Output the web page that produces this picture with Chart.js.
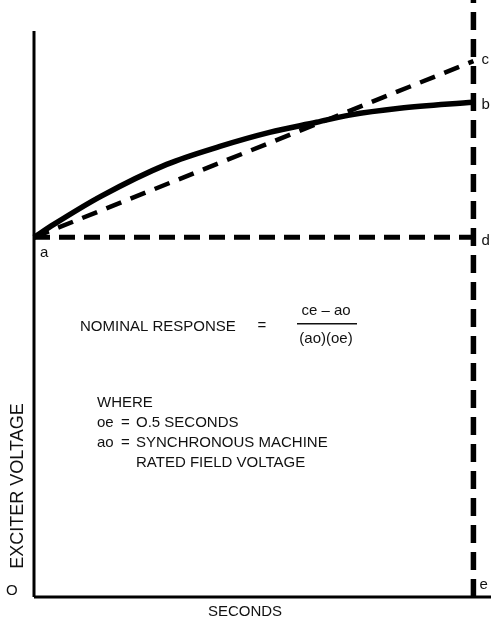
<!DOCTYPE html>
<html>
<head>
<meta charset="utf-8">
<script src="https://cdn.jsdelivr.net/npm/chart.js@4/dist/chart.umd.min.js"></script>
<style>
    html, body { margin: 0; padding: 0; background: #fff; }
    #wrap { width: 491px; height: 623px; position: relative; }
</style>
</head>
<body>
<div id="wrap"><canvas id="response-chart"></canvas></div>
<script>
// time in units of oe (e = 1), voltage in units of ao (a = 1)
const responseTime = [0, 0.045, 0.152, 0.302, 0.423, 0.536, 0.643, 0.718, 0.832, 1.0];
const responseVolts = [1.0, 1.036, 1.114, 1.203, 1.253, 1.292, 1.320, 1.340, 1.359, 1.376];
const nominalTime = [0, 1.0];
const nominalVolts = [1.0, 1.490];
const ratedTime = [0, 1.0];
const ratedVolts = [1.0, 1.0];
const markerTime = [1.0, 1.0];
const markerVolts = [0, 1.66];

const pointLetters = ['a', 'b', 'c', 'd', 'e', 'O'];
const axisTitles = ['SECONDS', 'EXCITER VOLTAGE'];
const formulaText = ['NOMINAL RESPONSE', '=', 'ce \u2013 ao', '(ao)(oe)'];
const whereTitle = 'WHERE';
const whereNames = ['oe', 'ao', ''];
const whereValues = ['O.5 SECONDS', 'SYNCHRONOUS MACHINE', 'RATED FIELD VOLTAGE'];

const toPoints = (xs, ys) => xs.map((x, i) => ({x: x, y: ys[i]}));

/**
 * Text drawn on top
 */
const textPlugin = {
    id: 'textPlugin',
    afterDraw(chart) {
        const ctx = chart.ctx;
        const sx = v => chart.scales.x.getPixelForValue(v);
        const sy = v => chart.scales.y.getPixelForValue(v);
        ctx.save();
        ctx.fillStyle = '#111';
        ctx.font = '15px "Liberation Sans", Arial, sans-serif';
        ctx.textBaseline = 'middle';
        ctx.textAlign = 'left';

        const last = responseTime.length - 1;
        ctx.fillText(pointLetters[0], sx(0) + 6, sy(1) + 15);
        ctx.fillText(pointLetters[1], sx(responseTime[last]) + 8, sy(responseVolts[last]) + 3);
        ctx.fillText(pointLetters[2], sx(nominalTime[1]) + 8, sy(nominalVolts[1]) - 1);
        ctx.fillText(pointLetters[3], sx(ratedTime[1]) + 8, sy(ratedVolts[1]) + 3);
        ctx.fillText(pointLetters[4], sx(markerTime[0]) + 6, sy(0) - 12);
        ctx.fillText(pointLetters[5], 6, sy(0) - 6);

        ctx.textAlign = 'center';
        ctx.fillText(axisTitles[0], 245, 612);
        ctx.save();
        ctx.translate(18, 486);
        ctx.rotate(-Math.PI / 2);
        ctx.font = '18px "Liberation Sans", Arial, sans-serif';
        ctx.fillText(axisTitles[1], 0, 0);
        ctx.restore();

        // formula
        ctx.textAlign = 'left';
        ctx.fillText(formulaText[0], 80, 327);
        ctx.textAlign = 'center';
        ctx.fillText(formulaText[1], 262, 326);
        ctx.fillText(formulaText[2], 326, 311);
        ctx.fillText(formulaText[3], 326, 339);
        ctx.fillRect(297, 323, 60, 1.5);

        ctx.textAlign = 'left';
        ctx.fillText(whereTitle, 97, 403);
        whereValues.forEach((val, i) => {
            const y = 423 + i * 20;
            if (whereNames[i]) {
                ctx.fillText(whereNames[i], 97, y);
                ctx.fillText('=', 121, y);
            }
            ctx.fillText(val, 136, y);
        });
        ctx.restore();
    }
};

const chart = new Chart(document.getElementById('response-chart'), {
    type: 'scatter',
    data: {
        datasets: [
            {
                data: toPoints(ratedTime, ratedVolts),
                borderColor: '#000',
                borderWidth: 5,
                borderDash: [16, 9]
            },
            {
                data: toPoints(nominalTime, nominalVolts),
                borderColor: '#000',
                borderWidth: 4.5,
                borderDash: [16, 10]
            },
            {
                data: toPoints(markerTime, markerVolts),
                borderColor: '#000',
                borderWidth: 5.5,
                borderDash: [18, 9]
            },
            {
                data: toPoints(responseTime, responseVolts),
                borderColor: '#000',
                borderWidth: 5.5,
                cubicInterpolationMode: 'monotone'
            },
            {
                // y axis line
                data: toPoints([0, 0], [0, 1.574]),
                borderColor: '#000',
                borderWidth: 3
            },
            {
                // x axis line
                data: toPoints([0, 1.04], [0, 0]),
                borderColor: '#000',
                borderWidth: 3
            }
        ]
    },
    options: {
        animation: false,
        responsive: true,
        maintainAspectRatio: false,
        devicePixelRatio: 1,
        layout: {
            padding: {left: 34, right: 0, top: 0, bottom: 26}
        },
        datasets: {
            scatter: {
                showLine: true,
                pointRadius: 0,
                clip: false,
                borderCapStyle: 'butt'
            }
        },
        scales: {
            x: {type: 'linear', min: 0, max: 1.04, display: false},
            y: {type: 'linear', min: 0, max: 1.66, display: false}
        },
        plugins: {
            legend: {display: false},
            tooltip: {enabled: false}
        }
    },
    plugins: [textPlugin]
});
</script>
</body>
</html>
